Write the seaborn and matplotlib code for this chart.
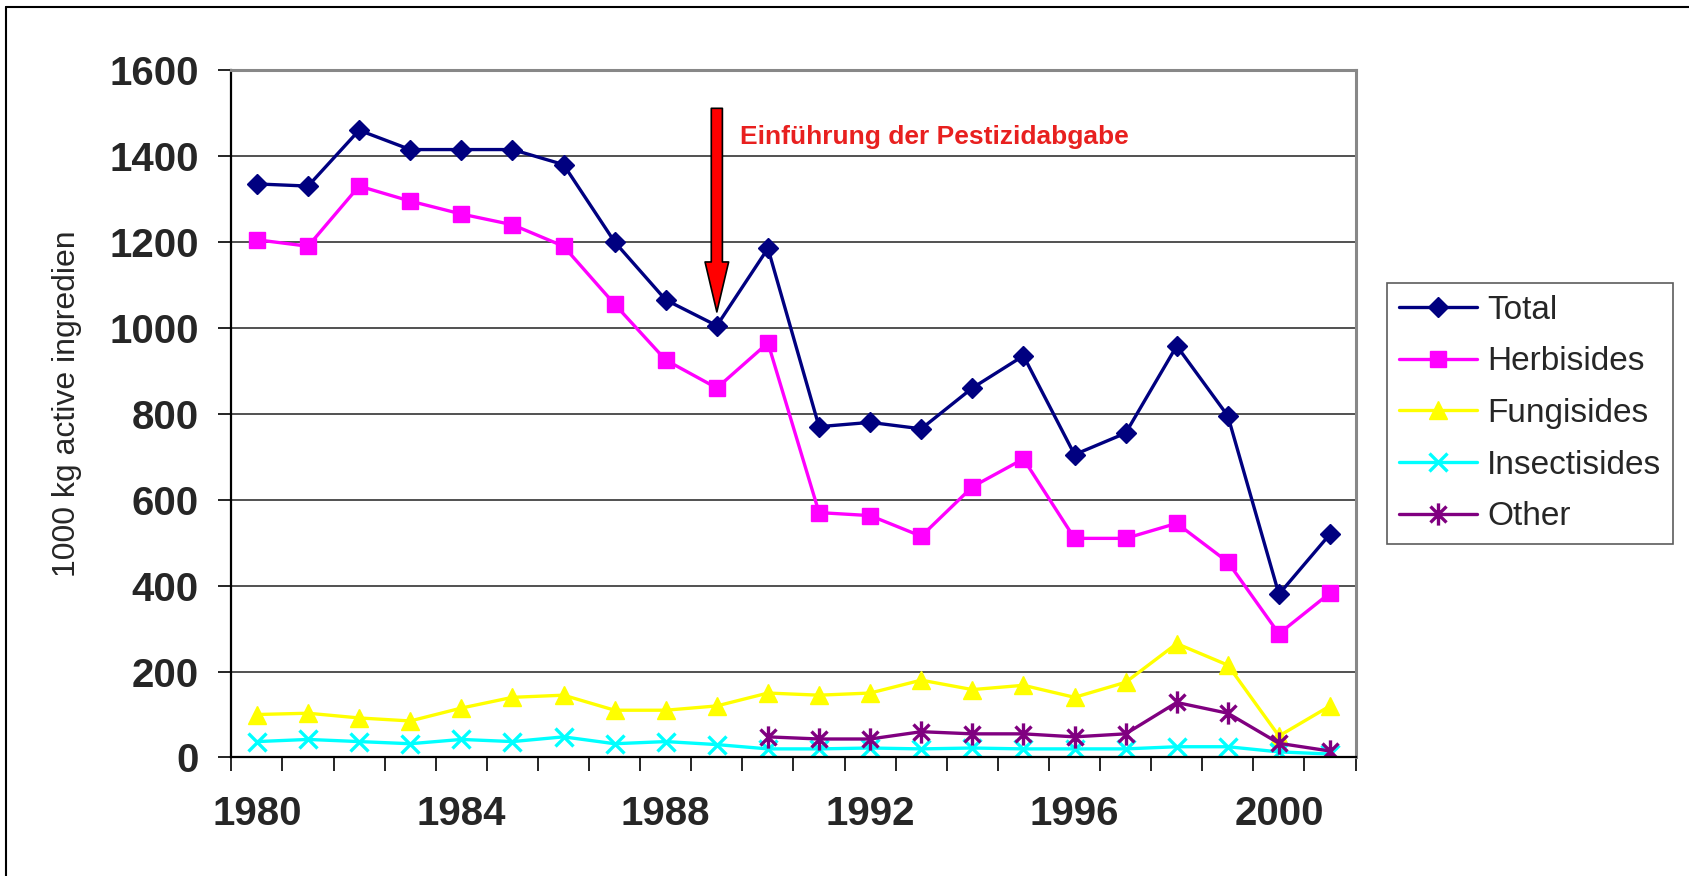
import matplotlib
matplotlib.use("Agg")
import matplotlib.pyplot as plt
import seaborn as sns
from matplotlib.path import Path
from matplotlib.transforms import Bbox
from matplotlib.lines import Line2D

# data (1000 kg active ingredient)
years = list(range(1980, 2002))
total = [1335, 1330, 1460, 1415, 1415, 1415, 1380, 1200, 1065, 1005, 1185,
         770, 780, 765, 860, 935, 705, 755, 958, 795, 380, 520]
herbisides = [1205, 1190, 1330, 1295, 1265, 1240, 1190, 1055, 925, 860, 965,
              570, 563, 515, 630, 695, 510, 510, 545, 455, 288, 383]
fungisides = [100, 103, 92, 85, 115, 140, 145, 110, 110, 120, 150,
              145, 150, 180, 158, 168, 140, 175, 265, 215, 50, 120]
insectisides = [37, 42, 37, 32, 42, 37, 48, 32, 37, 30, 20,
                20, 22, 20, 22, 20, 20, 20, 25, 25, 13, 8]
other_years = list(range(1990, 2002))
other = [48, 43, 43, 60, 55, 55, 48, 55, 128, 103, 33, 15]

label_years = [1980, 1984, 1988, 1992, 1996, 2000]
y_ticks = [0, 200, 400, 600, 800, 1000, 1200, 1400, 1600]

sns.set_style("white")
plt.rcParams["font.family"] = ["Liberation Sans", "DejaVu Sans"]

fig = plt.figure(figsize=(16.89, 8.76), dpi=100)
ax = fig.add_axes([0.137, 0.1353, 0.6656, 0.7847])

# Excel style asterisk: vertical bar plus an X
star = Path([(0, -1), (0, 1), (-0.72, -0.72), (0.72, 0.72), (-0.72, 0.72), (0.72, -0.72)],
            [Path.MOVETO, Path.LINETO, Path.MOVETO, Path.LINETO, Path.MOVETO, Path.LINETO])

series = [
    ("Total", years, total, "#000080", "D", 10, 1),
    ("Herbisides", years, herbisides, "#FF00FF", "s", 11, 1),
    ("Fungisides", years, fungisides, "#FFFF00", "^", 13, 1),
    ("Insectisides", years, insectisides, "#00FFFF", "x", 13.5, 2.4),
    ("Other", other_years, other, "#800080", star, 16, 2.4),
]
for name, xs, ys, col, mk, ms, mew in series:
    sns.lineplot(x=xs, y=ys, ax=ax, color=col, marker=mk, markersize=ms,
                 markeredgecolor=col, markerfacecolor=col, markeredgewidth=mew,
                 linewidth=2.4, label=name, estimator=None)

ax.set_xlim(1979.5, 2001.5)
ax.set_ylim(0, 1600)
ax.set_yticks(y_ticks)
ax.set_yticklabels([str(v) for v in y_ticks], fontsize=29, fontweight="bold")
ax.set_xticks(label_years)
ax.set_xticklabels([str(v) for v in label_years], fontsize=29, fontweight="bold")
ax.set_xticks([y - 0.5 for y in years] + [2001.5], minor=True)
ax.tick_params(axis="x", which="major", length=0, pad=27)
ax.tick_params(axis="x", which="minor", length=10, width=1.2, color="black", direction="out", bottom=True)
ax.tick_params(axis="y", which="major", length=9.4, width=1.2, color="black", direction="out", left=True, pad=14)
ax.grid(axis="y", color="#333333", linewidth=1.2)
ax.grid(axis="x", visible=False)
ax.set_axisbelow(True)
for side in ["top", "right"]:
    ax.spines[side].set_color("#888888")
    ax.spines[side].set_linewidth(2.2)
for side in ["left", "bottom"]:
    ax.spines[side].set_color("black")
    ax.spines[side].set_linewidth(1.6)

# y label, clipped like in the original
yl = fig.text(67 / 1689, 1 - 577 / 876, "1000 kg active ingredient", rotation=90,
              ha="center", va="bottom", fontsize=23)
yl.set_clip_box(Bbox.from_extents(0, 0, 1689, 876 - 232))
yl.set_clip_on(True)

# arrow + annotation
ax.annotate("", xy=(1989, 1037), xytext=(1989, 1511),
            arrowprops=dict(arrowstyle="simple,head_length=1.8,head_width=0.85,tail_width=0.4",
                            facecolor="#FF0000", edgecolor="black", linewidth=1.2,
                            shrinkA=0, shrinkB=0, mutation_scale=20))
ax.text(1989.45, 1444, "Einführung der Pestizidabgabe", color="#E8201F",
        fontsize=19, fontweight="bold", ha="left", va="center")

handles, labels = ax.get_legend_handles_labels()
ax.get_legend().remove()
leg = fig.legend(handles, labels, loc="upper left", bbox_to_anchor=(1387 / 1689, 1 - 283 / 876),
                 bbox_transform=fig.transFigure, borderaxespad=0, fontsize=24,
                 frameon=True, fancybox=False, edgecolor="#333333", handlelength=2.35,
                 handletextpad=0.3, labelspacing=0.62, borderpad=0.35)
leg.get_frame().set_linewidth(1.2)

# outer frame lines (left and top)
fig.add_artist(Line2D([6 / 1689, 6 / 1689], [0, 1 - 7 / 876], color="black", linewidth=1.5))
fig.add_artist(Line2D([6 / 1689, 1], [1 - 7 / 876, 1 - 7 / 876], color="black", linewidth=1.5))

fig.savefig("out.png", dpi=100)
